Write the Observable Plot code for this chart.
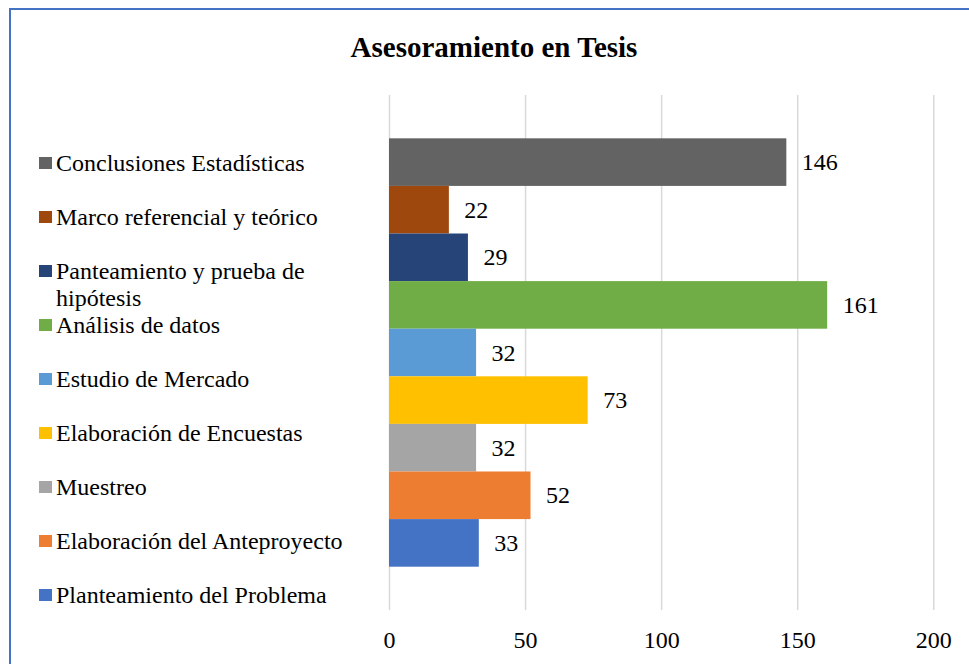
<!DOCTYPE html>
<html>
<head>
<meta charset="utf-8">
<script src="https://cdn.jsdelivr.net/npm/d3@7"></script>
<script src="https://cdn.jsdelivr.net/npm/@observablehq/plot@0.6"></script>
<style>
  html, body { margin: 0; padding: 0; background: #fff; }
  #wrap { position: relative; width: 969px; height: 664px; overflow: hidden; background: #fff;
          font-family: "Liberation Serif", "Times New Roman", serif; color: #000; }
  #frame { position: absolute; left: 9px; top: 8px; width: 1200px; height: 1200px;
           border-left: 2px solid #4472C4; border-top: 2px solid #4472C4; box-sizing: border-box; }
  #title { position: absolute; left: 194px; width: 600px; top: 32.7px; text-align: center;
           font-weight: bold; font-size: 29px; line-height: 29px; white-space: nowrap; }
  #chart { position: absolute; left: 0; top: 0; }
  .item { position: absolute; left: 39px; font-size: 24px; line-height: 27px; white-space: nowrap; }
  .sw { position: absolute; left: 0; width: 13px; height: 12px; }
  .tx { position: absolute; left: 17px; top: 0; }
</style>
</head>
<body>
<div id="wrap">
  <div id="frame"></div>
  <div id="chart"></div>
  <div id="title">Asesoramiento en Tesis</div>
  <div id="legend"></div>
</div>
<script>
// Categories (top to bottom as drawn), values and colours
const categories = [
  "Conclusiones Estadísticas",
  "Marco referencial y teórico",
  "Panteamiento y prueba de hipótesis",
  "Análisis de datos",
  "Estudio de Mercado",
  "Elaboración de Encuestas",
  "Muestreo",
  "Elaboración del Anteproyecto",
  "Planteamiento del Problema"
];
const values = [146, 22, 29, 161, 32, 73, 32, 52, 33];
const colors = ["#636363", "#9E480E", "#264478", "#70AD47", "#5B9BD5", "#FFC000", "#A5A5A5", "#ED7D31", "#4472C4"];
const legendLines = [
  ["Conclusiones Estadísticas"],
  ["Marco referencial y teórico"],
  ["Panteamiento y prueba de", "hipótesis"],
  ["Análisis de datos"],
  ["Estudio de Mercado"],
  ["Elaboración de Encuestas"],
  ["Muestreo"],
  ["Elaboración del Anteproyecto"],
  ["Planteamiento del Problema"]
];
const xTicks = [0, 50, 100, 150, 200];

const data = categories.map((c, i) => ({name: c, value: values[i], color: colors[i]}));

const chart = Plot.plot({
  width: 969,
  height: 664,
  marginLeft: 389,
  marginRight: 35.7,
  marginTop: 95,
  marginBottom: 54,
  style: {fontFamily: '"Liberation Serif", "Times New Roman", serif', fontSize: "24px", color: "#000", background: "transparent"},
  x: {domain: [0, 200], ticks: xTicks, tickSize: 0, tickPadding: 20, label: null},
  y: {domain: categories, paddingInner: 0, paddingOuter: 0.91, round: false, axis: null},
  color: {domain: categories, range: colors},
  marks: [
    Plot.gridX(xTicks, {stroke: "#d9d9d9", strokeOpacity: 1, strokeWidth: 1.5}),
    Plot.barX(data, {x: "value", y: "name", fill: "name"}),
    Plot.text(data, {x: "value", y: "name", text: d => String(d.value), dx: 15, textAnchor: "start", fill: "#000", fontSize: 24})
  ]
});
document.getElementById("chart").appendChild(chart);

// Legend
const legend = document.getElementById("legend");
legendLines.forEach((lines, i) => {
  const baseline = 172 + 53.9 * i;
  const item = document.createElement("div");
  item.className = "item";
  item.style.top = (baseline - 21.6) + "px";
  const sw = document.createElement("div");
  sw.className = "sw";
  sw.style.background = colors[i];
  sw.style.top = (21.6 - 14.5) + "px";
  const tx = document.createElement("div");
  tx.className = "tx";
  tx.innerHTML = lines.join("<br>");
  item.appendChild(sw);
  item.appendChild(tx);
  legend.appendChild(item);
});
</script>
</body>
</html>
